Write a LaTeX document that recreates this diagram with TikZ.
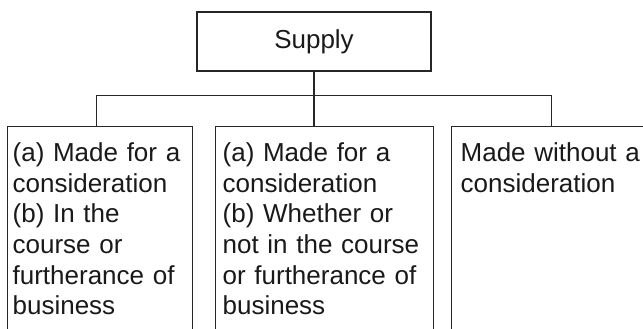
\documentclass[tikz,border=0pt]{standalone}
\usepackage{fontspec}
\setmainfont{Liberation Sans}
\usepackage{tikz}
\usetikzlibrary{calc}
\tikzset{
    tnode/.style = {align=left, draw=black!85, line width=1.3pt, text=black!90, font=\fontsize{26pt}{30.7pt}\selectfont},
    supply_node/.style = {tnode, align=center, rectangle, minimum width=234pt, minimum height=59pt, inner sep=0pt},
    case_node/.style = {tnode, rectangle, anchor=north west, inner ysep=16pt, text depth=220pt},
    link/.style = {draw=black!85, line width=1.3pt}
}

\begin{document}
\begin{tikzpicture}[x=1pt, y=1pt]
    \clip (0,0) rectangle (643,-329);

    \node [supply_node] (supply) at (314,-41.5) {Supply};

    \node [case_node, inner xsep=5pt, text width=175pt] (paid) at (7,-126)
        {(a) Made for a\\consideration\\(b) In the\\course or\\furtherance of\\business};
    \node [case_node, inner xsep=7pt, text width=204pt] (paid_any) at (215,-126)
        {(a) Made for a\\consideration\\(b) Whether or\\not in the course\\or furtherance of\\business};
    \node [case_node, inner xsep=9pt, text width=190pt] (free) at (451,-126)
        {Made without a\\consideration};

    \coordinate (bus) at ($(supply.south)+(0,-24)$);
    \draw [link] (supply.south) -- (supply.south |- paid_any.north);
    \draw [link] ([xshift=-3.5pt]paid.north) |- (bus) -| ([xshift=-4pt]free.north);
\end{tikzpicture}
\end{document}
